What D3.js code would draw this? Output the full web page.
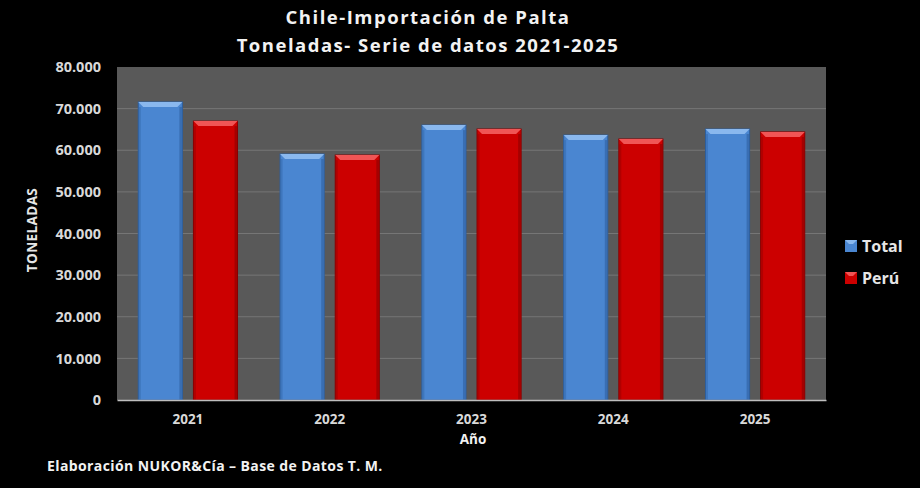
<!DOCTYPE html>
<html lang="es">
<head>
  <meta charset="UTF-8">
  <script src="https://d3js.org/d3.v7.min.js"></script>
  <title>Chile-Importación de Palta</title>
  <style>
    html, body { margin: 0; padding: 0; background: #000; }
    svg { display: block; font-family: "Open Sans", "DejaVu Sans", sans-serif; }
  </style>
</head>
<body>
  <script>
    const years = ["2021", "2022", "2023", "2024", "2025"]
    const seriesNames = ["Total", "Perú"]
    const totalValues = [71600, 59100, 66050, 63650, 65100]
    const peruValues = [67000, 58850, 65100, 62700, 64400]
    const yTicks = [0, 10000, 20000, 30000, 40000, 50000, 60000, 70000, 80000]

    const colors = {
      "Total": { main: "#4a86d1", top: "#8ab8ee", edge: "#2e5f9e" },
      "Perú": { main: "#cc0000", top: "#f05555", edge: "#8a0000" }
    }

    let dimension = {
      width: 920,
      height: 488,
      margin: { top: 67, right: 94, bottom: 88, left: 117 }
    }
    dimension.boundedWidth = dimension.width - dimension.margin.left - dimension.margin.right
    dimension.boundedHeight = dimension.height - dimension.margin.top - dimension.margin.bottom

    const rows = years.map((y, i) => ({ year: y, "Total": totalValues[i], "Perú": peruValues[i] }))

    const svg = d3.select("body")
        .append("svg")
        .attr("width", dimension.width)
        .attr("height", dimension.height)

    svg.append("rect")
        .attr("width", dimension.width)
        .attr("height", dimension.height)
        .attr("fill", "#000")

    // title
    const title = svg.append("text")
        .attr("x", 428)
        .attr("text-anchor", "middle")
        .attr("fill", "#f2f2f2")
        .attr("font-weight", "bold")
        .attr("font-size", 18.5)
        .attr("letter-spacing", 1.5)
    title.append("tspan").attr("x", 428).attr("y", 24).text("Chile-Importación de Palta")
    title.append("tspan").attr("x", 428).attr("y", 52).text("Toneladas- Serie de datos 2021-2025")

    const bounds = svg.append("g")
        .attr("transform", `translate(${dimension.margin.left}, ${dimension.margin.top})`)

    bounds.append("rect")
        .attr("width", dimension.boundedWidth)
        .attr("height", dimension.boundedHeight)
        .attr("fill", "#595959")

    const xScale = d3.scaleBand()
        .domain(years)
        .range([0, dimension.boundedWidth])
        .paddingInner(0.3)
        .paddingOuter(0.15)

    const xSub = d3.scaleBand()
        .domain(seriesNames)
        .range([0, xScale.bandwidth()])
        .paddingInner(0.2)

    const yScale = d3.scaleLinear()
        .domain([0, 80000])
        .range([dimension.boundedHeight, 0])

    const fmt = d => d === 0 ? "0" : d3.format(",")(d).replace(/,/g, ".")

    // gridlines
    bounds.append("g")
        .selectAll("line")
        .data(yTicks.filter(d => d > 0 && d < 80000))
        .join("line")
        .attr("x1", 0)
        .attr("x2", dimension.boundedWidth)
        .attr("y1", d => yScale(d))
        .attr("y2", d => yScale(d))
        .attr("stroke", "#767676")
        .attr("stroke-width", 1)

    // bars with bevel
    const groups = bounds.append("g")
        .selectAll("g")
        .data(rows)
        .join("g")
        .attr("transform", d => `translate(${xScale(d.year)}, 0)`)

    const bars = groups.selectAll("g")
        .data(d => seriesNames.map(s => ({ key: s, value: d[s] })))
        .join("g")

    const bev = 5
    bars.append("rect")
        .attr("x", d => xSub(d.key))
        .attr("y", d => yScale(d.value))
        .attr("width", xSub.bandwidth())
        .attr("height", d => yScale(0) - yScale(d.value))
        .attr("fill", d => colors[d.key].main)
        .attr("stroke", d => colors[d.key].edge)
        .attr("stroke-width", 1)

    bars.append("polygon")
        .attr("points", d => {
          const x0 = xSub(d.key), x1 = x0 + xSub.bandwidth(), y0 = yScale(d.value)
          return [[x0, y0], [x1, y0], [x1 - bev, y0 + bev], [x0 + bev, y0 + bev]].join(" ")
        })
        .attr("fill", d => colors[d.key].top)

    bars.append("rect")
        .attr("x", d => xSub(d.key) + xSub.bandwidth() - 3)
        .attr("y", d => yScale(d.value) + bev)
        .attr("width", 2.5)
        .attr("height", d => yScale(0) - yScale(d.value) - bev)
        .attr("fill", d => colors[d.key].edge)
        .attr("opacity", 0.6)

    bars.append("rect")
        .attr("x", d => xSub(d.key) + 0.5)
        .attr("y", d => yScale(d.value) + bev)
        .attr("width", 2)
        .attr("height", d => yScale(0) - yScale(d.value) - bev)
        .attr("fill", d => colors[d.key].edge)
        .attr("opacity", 0.4)

    // x axis
    const xAxis = bounds.append("g")
        .attr("transform", `translate(0, ${dimension.boundedHeight})`)
        .call(d3.axisBottom(xScale).tickSize(0).tickPadding(14))
    xAxis.select(".domain").attr("stroke", "#bfbfbf").attr("stroke-width", 1.5)
    xAxis.selectAll("text")
        .attr("fill", "#d9d9d9")
        .attr("font-size", 13.5)
        .attr("font-weight", "bold")
        .attr("font-family", "'Open Sans', sans-serif")

    // y axis
    const yAxis = bounds.append("g")
        .call(d3.axisLeft(yScale).tickValues(yTicks).tickFormat(fmt).tickSize(0).tickPadding(16))
    yAxis.select(".domain").remove()
    yAxis.selectAll("text")
        .attr("fill", "#d9d9d9")
        .attr("font-size", 14.5)
        .attr("font-weight", "bold")
        .attr("font-family", "'Open Sans', sans-serif")

    // axis titles
    svg.append("text")
        .attr("x", 473)
        .attr("y", 444)
        .attr("text-anchor", "middle")
        .attr("fill", "#f2f2f2")
        .attr("font-size", 13.5)
        .attr("font-weight", "bold")
        .text("Año")

    svg.append("text")
        .attr("transform", "translate(37, 230) rotate(-90)")
        .attr("text-anchor", "middle")
        .attr("fill", "#e6e6e6")
        .attr("font-size", 13.5)
        .attr("font-weight", "bold")
        .attr("letter-spacing", 0.4)
        .text("TONELADAS")

    // legend
    const legend = svg.append("g")
        .selectAll("g")
        .data(seriesNames)
        .join("g")
        .attr("transform", (d, i) => `translate(845, ${240 + i * 32})`)

    legend.append("rect")
        .attr("width", 12)
        .attr("height", 12)
        .attr("fill", d => colors[d].main)
    legend.append("polygon")
        .attr("points", "0,0 12,0 8,4 4,4")
        .attr("fill", d => colors[d].top)
    legend.append("text")
        .attr("x", 17)
        .attr("y", 12)
        .attr("fill", "#e6e6e6")
        .attr("font-size", 16)
        .attr("font-weight", "bold")
        .text(d => d)

    // footer
    svg.append("text")
        .attr("x", 47)
        .attr("y", 471)
        .attr("fill", "#f2f2f2")
        .attr("font-size", 14)
        .attr("font-weight", "bold")
        .attr("letter-spacing", 0.4)
        .text("Elaboración NUKOR&Cía – Base de Datos T. M.")
  </script>
</body>
</html>
